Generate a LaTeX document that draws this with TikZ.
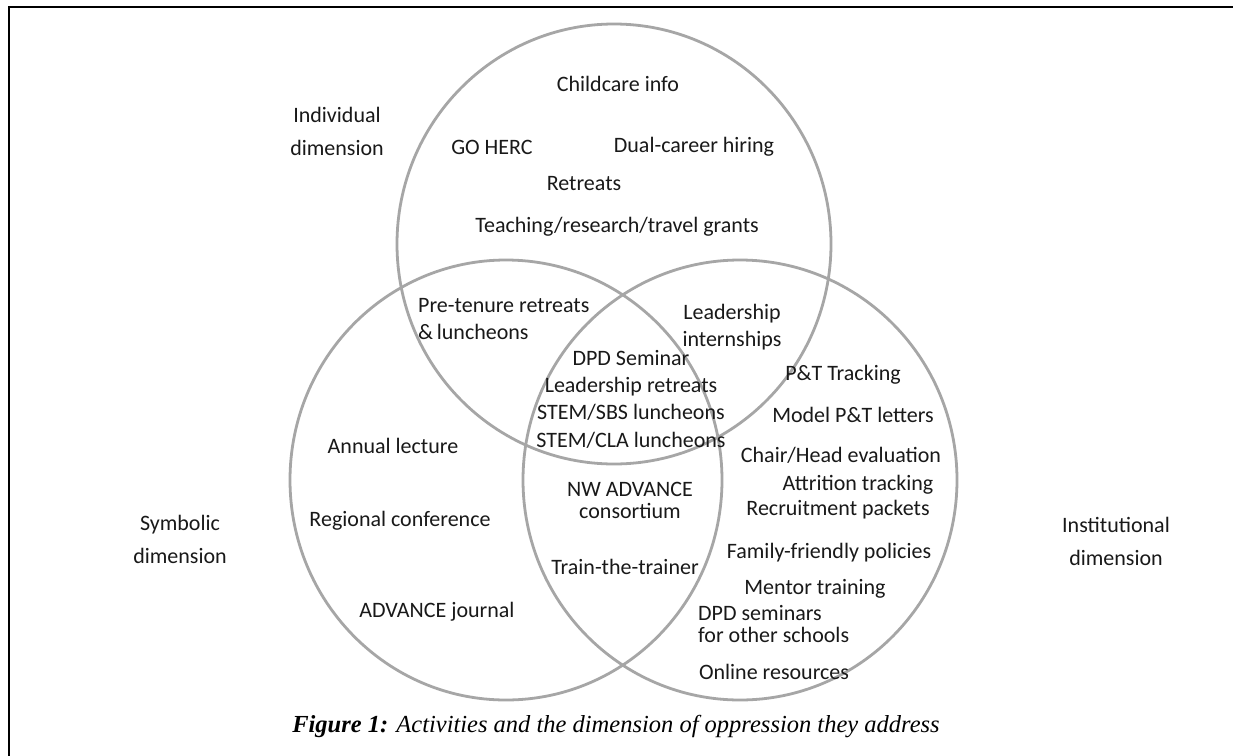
\documentclass[tikz,border=0pt]{standalone}
\usepackage{fontspec}
\setmainfont{Carlito}
\newfontfamily\capfont{Liberation Serif}
\definecolor{circ}{RGB}{166,166,166}
\definecolor{txt}{RGB}{25,25,25}
\begin{document}
\begin{tikzpicture}[x=1pt,y=-1pt,
  lab/.style={font=\fontsize{22}{27.5}\selectfont, text=txt, inner sep=0pt, align=center},
  labl/.style={lab, align=left},
  dim/.style={lab, font=\fontsize{22}{33}\selectfont},
  tight/.style={font=\fontsize{22}{22}\selectfont},
  ring/.style={draw=circ, line width=2.8pt}]
\useasboundingbox (0,0) rectangle (1233,755);
\fill[white] (0,0) rectangle (1233,755);
\draw[line width=2pt] (9,770) -- (9,7) -- (1250,7);
% circles
\draw[ring] (614,244) ellipse [x radius=217pt, y radius=220pt];
\draw[ring] (506,480) ellipse [x radius=216pt, y radius=220pt];
\draw[ring] (740,480) ellipse [x radius=217pt, y radius=220pt];
% dimension labels
\node[dim] (ind) at (337,131) {Individual\\dimension};
\node[dim] (sym) at (180,539) {Symbolic\\dimension};
\node[dim] (ins) at (1116,541) {Institutional\\dimension};
% individual
\node[lab] (child) at (618,84) {Childcare info};
\node[lab] (goherc) at (492,147) {GO HERC};
\node[lab] (dual) at (694,147) {Dual-career hiring};
\node[lab] (retr) at (584,184) {Retreats};
\node[lab] (teach) at (617,227) {Teaching/research/travel grants};
% intersections
\node[labl, anchor=west] (pret) at (418,319) {Pre-tenure retreats\\\&\,luncheons};
\node[lab] (lead) at (732,327) {Leadership\\internships};
\node[lab, font=\fontsize{22}{27.3}\selectfont] (center) at (631,399) {DPD Seminar\\Leadership retreats\\STEM/SBS luncheons\\STEM/CLA luncheons};
\node[lab, tight] (nw) at (630,500) {NW ADVANCE\\consortium};
\node[lab] (train) at (625,567) {Train-the-trainer};
% symbolic
\node[lab] (annual) at (393,446) {Annual lecture};
\node[lab] (regional) at (400,521) {Regional conference};
\node[lab] (journal) at (437,612) {ADVANCE journal};
% institutional
\node[lab] (ptt) at (843,375) {P\&T Tracking};
\node[lab] (model) at (853,415) {Model P\&T letters};
\node[lab] (chair) at (841,455) {Chair/Head evaluation};
\node[lab] (attr) at (858,485) {Attrition tracking};
\node[lab] (recr) at (838,510) {Recruitment packets};
\node[lab] (family) at (829,553) {Family-friendly policies};
\node[lab] (mentor) at (815,589) {Mentor training};
\node[labl, anchor=west, tight] (dpds) at (698,624) {DPD seminars\\for other schools};
\node[lab] (online) at (774,672) {Online resources};
% caption
\node[inner sep=0pt, font=\capfont\fontsize{24.5}{28}\selectfont] (cap) at (616,727) {\textbf{\textit{Figure 1:}} \textit{Activities and the dimension of oppression they address}};
\end{tikzpicture}
\end{document}
